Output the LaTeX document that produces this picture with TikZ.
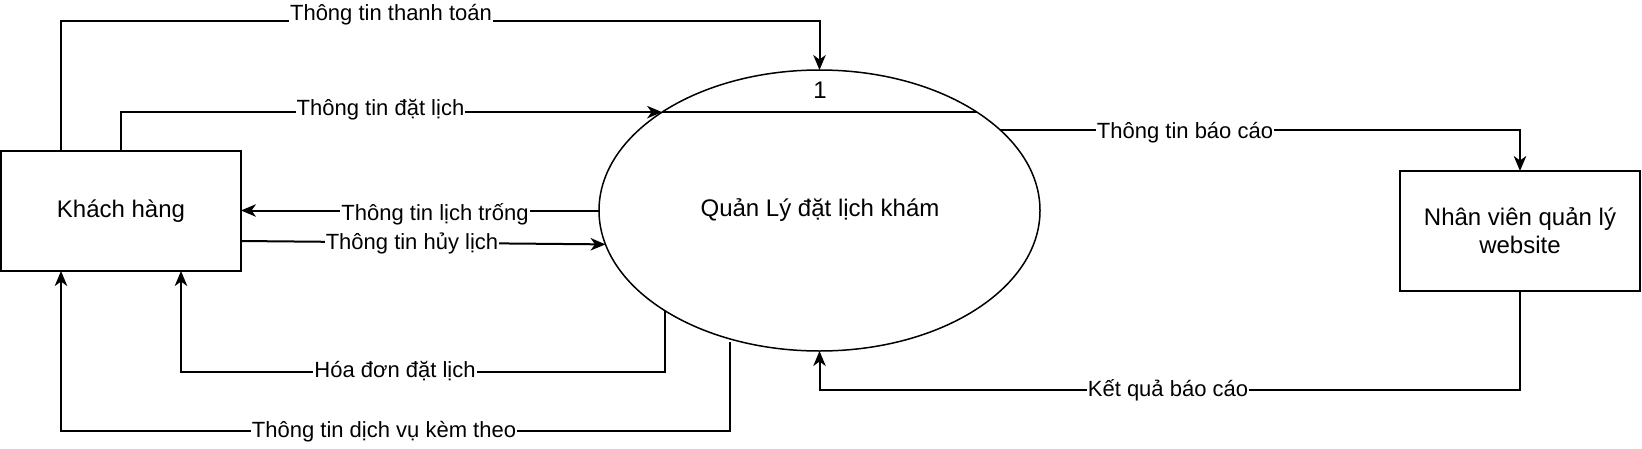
\documentclass[tikz,border=0pt]{standalone}
\usepackage{fontspec}
\setmainfont{Liberation Sans}
\usetikzlibrary{arrows.meta,shapes.geometric,calc}
\begin{document}
\begin{tikzpicture}[x=1pt,y=-1pt,
  box/.style={draw, line width=2pt, rectangle, minimum width=240pt, minimum height=120pt, inner sep=0pt, outer sep=0pt, align=center, font=\fontsize{24}{28}\selectfont},
  proc/.style={draw, line width=1.5pt, ellipse, minimum width=441pt, minimum height=281pt, inner sep=0pt, outer sep=0pt},
  txt/.style={inner sep=0pt, font=\fontsize{24}{28}\selectfont},
  arr/.style={line width=2pt, -{Stealth[length=15pt,width=12.5pt,inset=4.5pt]}},
  lbl/.style={fill=white, inner sep=1pt, font=\fontsize{22}{26}\selectfont}]
\useasboundingbox (0,0) rectangle (1642,448);

\node[box] (kh) at (121,211) {Khách hàng};
\node[box] (nv) at (1520,231) {Nhân viên quản lý\\website};
\node[proc] (el) at (819.5,210.5) {};
\node[txt] (title) at (820,210) {Quản Lý đặt lịch khám};
\node[txt] (num) at (820,90) {1};
\draw[line width=1.5pt] (el.148) -- (el.32);
\coordinate (c6) at (730,342);

% connectors
\draw[arr] ([xshift=60pt]kh.north west) -- ++(0,-130) -| (el.north);
\draw[arr] ([xshift=120pt]kh.north west) |- (el.148);
\draw[arr] (el.west) -- (el.west -| kh.east);
\draw[arr] ([yshift=-30pt]kh.east) -- (el.189);
\draw[arr] (el.213) -- ++(0,61) -| ([xshift=180pt]kh.south west);
\draw[arr] (c6) -- ++(0,89) -| ([xshift=60pt]kh.south west);
\draw[arr] (el.24) -| (nv.north);
\draw[arr] (nv.south) -- ++(0,99) -| (el.south);

% labels
\node[lbl] (l1) at (391,15) {Thông tin thanh toán};
\node[lbl] (l2) at (380.5,110) {Thông tin đặt lịch};
\node[lbl] (l3) at (435,214) {Thông tin lịch trống};
\node[lbl] (l4) at (412,243) {Thông tin hủy lịch};
\node[lbl] (l5) at (395,371) {Hóa đơn đặt lịch};
\node[lbl] (l6) at (384,432) {Thông tin dịch vụ kèm theo};
\node[lbl] (l7) at (1185,133) {Thông tin báo cáo};
\node[lbl] (l8) at (1168,390) {Kết quả báo cáo};
\end{tikzpicture}
\end{document}
